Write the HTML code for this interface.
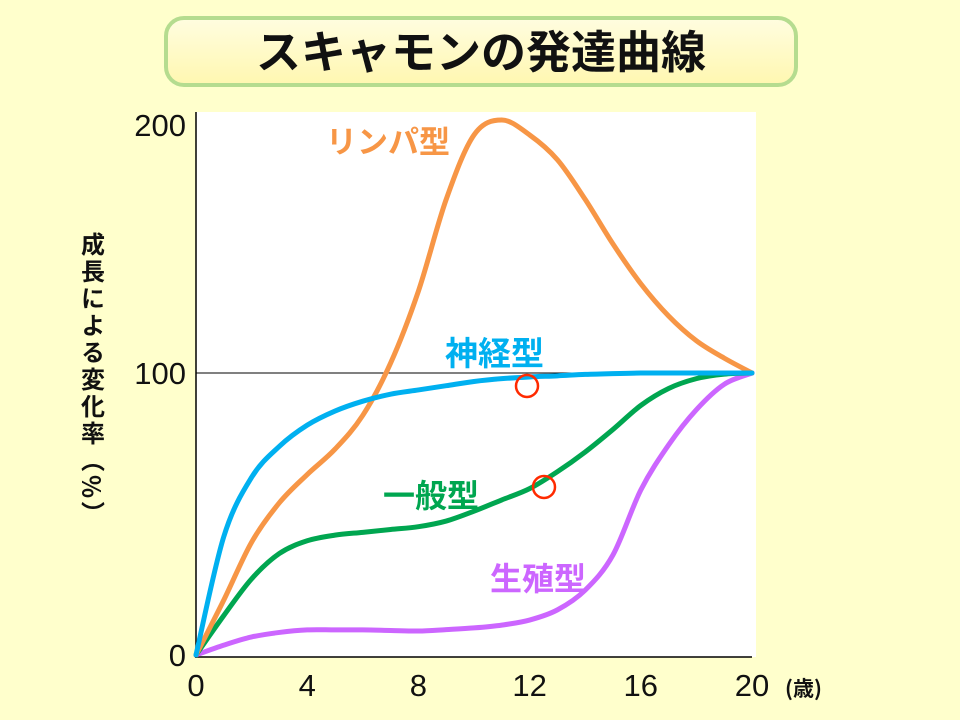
<!DOCTYPE html>
<html><head><meta charset="utf-8"><style>
body{margin:0;width:960px;height:720px;background:#ffffcc;overflow:hidden;font-family:"Liberation Sans","Noto Sans CJK JP",sans-serif}
</style></head><body>
<svg width="960" height="720" style="position:absolute;left:0;top:0">
<defs><linearGradient id="tg" x1="0" y1="0" x2="0" y2="1"><stop offset="0" stop-color="#fffde0"/><stop offset="1" stop-color="#fff7b0"/></linearGradient></defs>
<rect x="166" y="18" width="630" height="67" rx="18" fill="url(#tg)" stroke="#b5dc8f" stroke-width="4"/>
<text x="481" y="68" text-anchor="middle" font-size="45" font-weight="bold" fill="#111" font-family="'Noto Sans CJK JP',sans-serif">スキャモンの発達曲線</text>
<rect x="196" y="112" width="560" height="545" fill="#fff"/>
<g id="grid"></g>
<g id="series"></g>
<g id="ticks"></g>
<text font-size="24" font-weight="bold" fill="#111" font-family="'Noto Sans CJK JP',sans-serif" writing-mode="tb" x="93" y="232" letter-spacing="3">成長による変化率（%）</text>
<text x="785" y="696" font-size="21" font-weight="bold" fill="#111" font-family="'Noto Sans CJK JP',sans-serif">(歳)</text>
<text x="326" y="153" font-size="31" font-weight="bold" fill="#f79646" font-family="'Noto Sans CJK JP',sans-serif">リンパ型</text>
<text x="445" y="365" font-size="33" font-weight="bold" fill="#00b0f0" font-family="'Noto Sans CJK JP',sans-serif">神経型</text>
<text x="383" y="507" font-size="32" font-weight="bold" fill="#00a650" font-family="'Noto Sans CJK JP',sans-serif">一般型</text>
<text x="490" y="590" font-size="32" font-weight="bold" fill="#cc66ff" font-family="'Noto Sans CJK JP',sans-serif">生殖型</text>
<circle cx="527" cy="386" r="11" fill="none" stroke="#ff2a00" stroke-width="2.5"/>
<circle cx="544" cy="487" r="11" fill="none" stroke="#ff2a00" stroke-width="2.5"/>
</svg>
<script>
const ages=[0,1,2,3,4,5,6,7,8,9,10,11,12,13,14,15,16,17,18,19,20];
const lymphoid=[0,19.5,40,54,64,73,85,104,133,170,196,202,196,186,170,152,136,123,113,106,100];
const neural=[0,42,63,74,81.5,86.5,90,92.5,94,95.5,97,98,98.6,99,99.5,99.8,100,100,100,100,100];
const general=[0,14,27,36,40.5,42.5,43.5,44.5,45.5,47.5,51,55,59,65,72,80,88.5,94.5,98,99.6,100];
const reproductive=[0,3.5,6.4,8,8.9,8.9,8.9,8.7,8.5,9,9.6,10.6,12.4,16,23,35.5,58.5,74.5,87,96,100];
const xTicks=[0,4,8,12,16,20];
const yTicks=[0,100,200];
const NS="http://www.w3.org/2000/svg";
function X(a){return 196+a*27.8;}
function Y(v){return v<=100?655-2.82*v:373-2.48*(v-100);}
function el(t,attrs,parent){const e=document.createElementNS(NS,t);for(const k in attrs)e.setAttribute(k,attrs[k]);document.getElementById(parent).appendChild(e);return e;}
let g=el('line',{x1:X(0),x2:X(20),y1:Y(100),y2:Y(100),stroke:'#000','stroke-width':1},'grid');


let ya=el('line',{x1:196,x2:196,y1:112,y2:658,stroke:'#000','stroke-width':1.5},'grid');


let xa=el('line',{x1:195,x2:752,y1:657,y2:657,stroke:'#000','stroke-width':1.5},'grid');


function path(vals){const p=ages.map((a,i)=>[X(a),Y(vals[i])]);let d='M'+p[0][0]+','+p[0][1];
for(let i=0;i<p.length-1;i++){const p0=p[i-1]||p[i],p1=p[i],p2=p[i+1],p3=p[i+2]||p[i+1];
d+=' C'+(p1[0]+(p2[0]-p0[0])/6)+','+(p1[1]+(p2[1]-p0[1])/6)+' '+(p2[0]-(p3[0]-p1[0])/6)+','+(p2[1]-(p3[1]-p1[1])/6)+' '+p2[0]+','+p2[1];}return d;}
const ser=[[reproductive,'#cc66ff','line-reproductive'],[general,'#00a650','line-general'],[lymphoid,'#f79646','line-lymphoid'],[neural,'#00b0f0','line-neural']];
ser.forEach(s=>{const e=el('path',{d:path(s[0]),fill:'none',stroke:s[1],'stroke-width':5,'stroke-linecap':'round','stroke-linejoin':'round'},'series');

});
xTicks.forEach(t=>{const e=el('text',{x:X(t),y:696,'text-anchor':'middle','font-size':31,fill:'#111'},'ticks');e.textContent=t;

});
yTicks.forEach(t=>{const e=el('text',{x:186,y:Y(t)+11,'text-anchor':'end','font-size':31,fill:'#111'},'ticks');e.textContent=t;

});
</script>
</body></html>
